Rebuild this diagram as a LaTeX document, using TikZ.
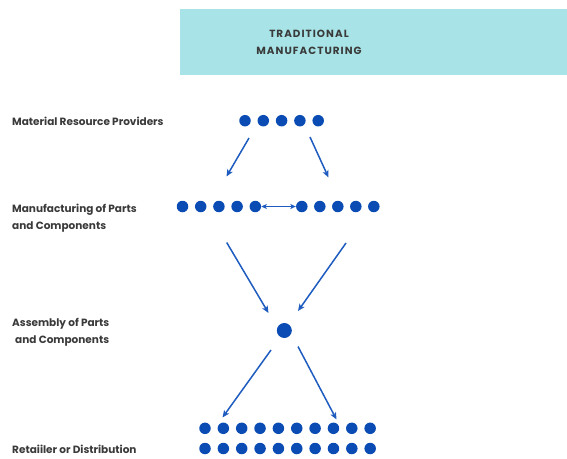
\documentclass[tikz,border=0pt]{standalone}
\usepackage{fontspec}
\setmainfont{Poppins}
\usetikzlibrary{arrows.meta}
\definecolor{headfill}{HTML}{A8E4E7}
\definecolor{dotblue}{HTML}{0A4CB4}
\definecolor{arrowblue}{HTML}{1F5CBF}
\definecolor{labelgray}{HTML}{3A3A3A}
\begin{document}
\begin{tikzpicture}[x=1pt,y=-1pt,
  dot/.style={circle,fill=dotblue,inner sep=0pt,minimum size=11.5pt},
  bigdot/.style={circle,fill=dotblue,inner sep=0pt,minimum size=15pt},
  flow/.style={draw=arrowblue,line width=1.5pt,-{Stealth[length=7pt,width=6pt,inset=1.6pt]}},
  link/.style={draw=arrowblue,line width=1.3pt,{Stealth[length=5.5pt,width=5pt,inset=1.2pt]}-{Stealth[length=5.5pt,width=5pt,inset=1.2pt]}},
  stage/.style={anchor=west,align=left,text=labelgray,font=\fontsize{10.5}{16.7}\selectfont\bfseries,inner sep=0pt},
  header/.style={align=center,text=labelgray,font=\fontsize{10.4}{17}\selectfont\bfseries\addfontfeatures{LetterSpace=10}}]
\useasboundingbox (0,0) rectangle (567,458);

% header band
\fill[headfill] (180,9) rectangle (567,75);
\node[header] (title) at (309,42) {TRADITIONAL\\MANUFACTURING};

% stage labels
\node[stage] (l1) at (12,121) {Material Resource Providers};
\node[stage] (l2) at (12,218.5) {Manufacturing of Parts\\and Components};
\node[stage] (l3) at (12,332) {Assembly of Parts\\\hspace*{3pt}and Components};
\node[stage] (l4) at (12,449.5) {Retaiiler or Distribution};

% material providers
\foreach \i in {0,...,4}
  \node[dot] (p\i) at (245+18.3*\i,120.7) {};

% parts manufacturers: two groups of five
\foreach \i in {0,...,4} {
  \node[dot] (ma\i) at (182.5+18.2*\i,206.5) {};
  \node[dot] (mb\i) at (301.8+18*\i,206.5) {};
}
\draw[link] (ma4) -- (mb0);

% assembly
\node[bigdot] (asm) at (284.3,330.5) {};

% retail / distribution: two rows of ten
\foreach \i in {0,...,9} {
  \node[dot] (ra\i) at (205+18.35*\i,428.3) {};
  \node[dot] (rb\i) at (205+18.35*\i,448.5) {};
}

% flow arrows between stages
\coordinate (s1) at (249,138);   \coordinate (e1) at (226.5,176.5);
\coordinate (s2) at (310,137);   \coordinate (e2) at (328.5,177.5);
\coordinate (s3) at (226.7,242.5); \coordinate (e3) at (268.5,313);
\coordinate (s4) at (346,243);   \coordinate (e4) at (298,311);
\coordinate (s5) at (271,350);   \coordinate (e5) at (222.5,417.5);
\coordinate (s6) at (298,346.5); \coordinate (e6) at (336.5,419.5);
\foreach \n in {1,...,6}
  \draw[flow] (s\n) -- (e\n);
\end{tikzpicture}
\end{document}
